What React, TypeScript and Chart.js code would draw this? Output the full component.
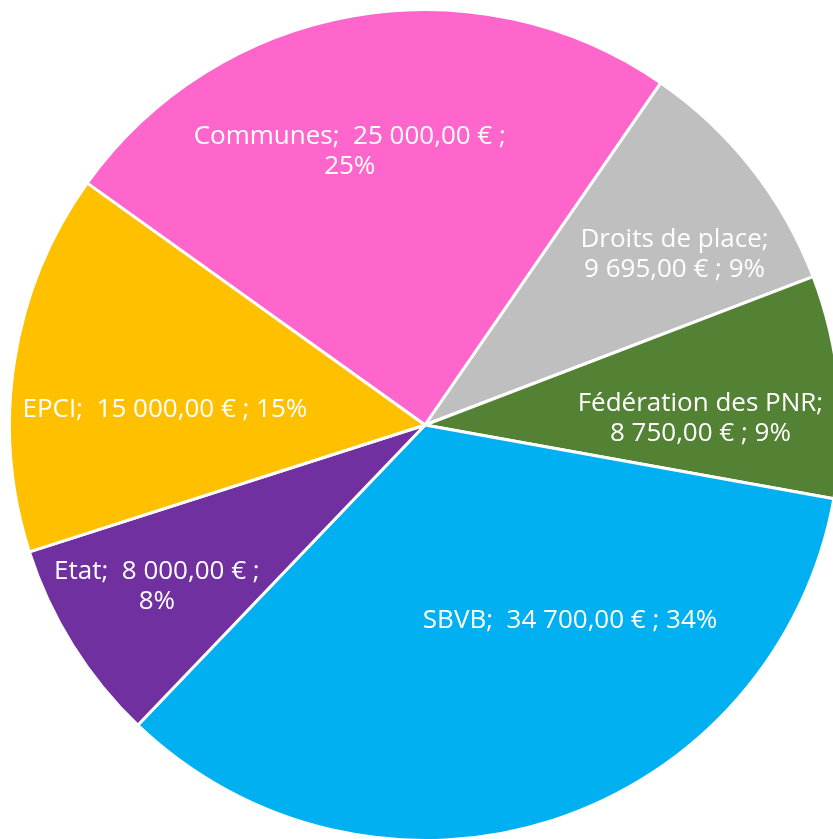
import React, { useEffect, useRef } from "react";
import { Chart, registerables } from "chart.js";

Chart.register(...registerables);

const categories = ["Communes", "Droits de place", "Fédération des PNR", "SBVB", "Etat", "EPCI"];
const values = [25000, 9695, 8750, 34700, 8000, 15000];
const percentLabels = ["25%", "9%", "9%", "34%", "8%", "15%"];
const colors = ["#FF66CC", "#BFBFBF", "#548235", "#00B0F0", "#7030A0", "#FFC000"];
// 0 = single line, 1 = break before percent, 2 = break after name
const labelBreaks = [1, 2, 2, 0, 1, 0];
// label anchor in polar terms: angle (deg clockwise from top) and fraction of radius
const labelAngles = [-15.4, 55.7, 88.7, 143.5, 239, 273.3];
const labelRadii = [0.682, 0.727, 0.663, 0.587, 0.753, 0.627];
const startAngleDeg = -54.4;

function fmt(v: number): string {
  const s = Math.round(v).toString();
  let out = "";
  for (let i = 0; i < s.length; i++) {
    const fromEnd = s.length - i;
    out += s[i];
    if (fromEnd > 1 && (fromEnd - 1) % 3 === 0) out += " ";
  }
  return out + ",00";
}

function labelLines(i: number): string[] {
  const name = categories[i] + ";";
  const val = fmt(values[i]) + " €";
  const pct = percentLabels[i];
  if (labelBreaks[i] === 1) return [name + "  " + val + " ;", pct];
  if (labelBreaks[i] === 2) return [name, val + " ; " + pct];
  return [name + "  " + val + " ; " + pct];
}

const labelPlugin = {
  id: "pieLabels",
  afterDatasetsDraw(chart: any) {
    const meta = chart.getDatasetMeta(0);
    const arc = meta.data[0];
    if (!arc) return;
    const cx = arc.x;
    const cy = arc.y;
    const r = arc.outerRadius;
    const ctx = chart.ctx;
    ctx.save();
    ctx.fillStyle = "#FFFFFF";
    ctx.font = "26px 'Open Sans', sans-serif";
    ctx.textAlign = "center";
    ctx.textBaseline = "middle";
    const lh = 30;
    categories.forEach((_, i) => {
      const a = (labelAngles[i] * Math.PI) / 180;
      const x = cx + Math.sin(a) * r * labelRadii[i];
      const y = cy - Math.cos(a) * r * labelRadii[i];
      const lines = labelLines(i);
      const y0 = y - ((lines.length - 1) * lh) / 2;
      lines.forEach((ln, k) => ctx.fillText(ln, x, y0 + k * lh));
    });
    ctx.restore();
  },
};

export default function App() {
  const ref = useRef<HTMLCanvasElement>(null);
  useEffect(() => {
    if (!ref.current) return;
    const chart = new Chart(ref.current, {
      type: "pie",
      data: {
        labels: categories,
        datasets: [
          {
            data: values,
            backgroundColor: colors,
            borderColor: "#FFFFFF",
            borderWidth: 3,
          },
        ],
      },
      options: {
        responsive: false,
        animation: false,
        rotation: startAngleDeg,
        layout: { padding: 8 },
        plugins: {
          legend: { display: false },
          tooltip: { enabled: false },
        },
      },
      plugins: [labelPlugin],
    });
    return () => chart.destroy();
  }, []);
  return (
    <div style={{ position: "fixed", left: 0, top: 0, width: 833, height: 839, overflow: "hidden", background: "#fff" }}>
      <canvas ref={ref} width={850} height={850} style={{ display: "block" }} />
    </div>
  );
}
